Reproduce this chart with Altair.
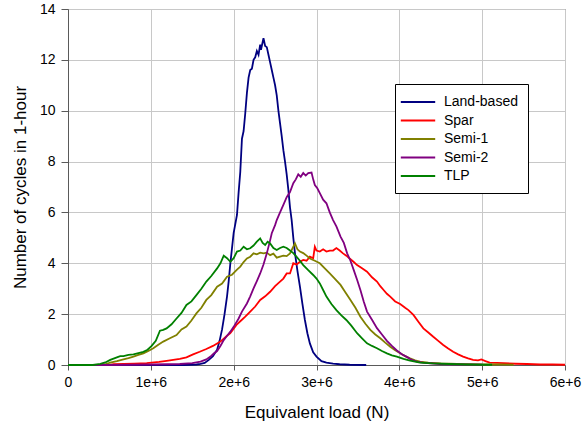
import altair as alt
import pandas as pd

SERIES = ["Land-based", "Spar", "Semi-1", "Semi-2", "TLP"]
COLORS = ["#000080", "#FF0000", "#808000", "#800080", "#008000"]

# x in units of 1e6 N, y = number of cycles in 1-hour
land_x = [0, 1.0, 1.4, 1.55, 1.6, 1.65, 1.7, 1.75, 1.8, 1.83, 1.86, 1.89, 1.92, 1.94, 1.96, 1.98, 2.0, 2.04, 2.06,
          2.08, 2.10, 2.12, 2.14, 2.16, 2.18, 2.20, 2.22, 2.24, 2.26, 2.28, 2.30, 2.32, 2.33, 2.35, 2.36, 2.38, 2.40,
          2.42, 2.44, 2.46, 2.48, 2.50, 2.52, 2.54, 2.56, 2.58, 2.60, 2.62, 2.64, 2.66, 2.68, 2.70, 2.72, 2.74, 2.77,
          2.80, 2.83, 2.86, 2.89, 2.92, 2.96, 3.0, 3.06, 3.12, 3.2, 3.28, 3.4, 3.6]
land_y = [0, 0, 0, 0.02, 0.04, 0.08, 0.2, 0.35, 0.6, 0.95, 1.4, 2.0, 2.7, 3.3, 4.0, 4.6, 5.2, 5.9, 6.8,
          7.6, 8.9, 9.2, 9.9, 10.7, 11.3, 11.6, 11.65, 12.0, 12.1, 12.35, 12.2, 12.6, 12.4, 12.7, 12.85, 12.55, 12.5,
          12.2, 11.9, 11.6, 11.3, 11.0, 10.6, 10.0, 9.5, 9.0, 8.45, 8.0, 7.5, 6.9, 6.2, 5.7, 5.0, 4.4, 3.7,
          3.08, 2.4, 1.77, 1.25, 0.85, 0.5, 0.33, 0.15, 0.09, 0.05, 0.03, 0.01, 0.0]

spar_x = [0, 0.5, 0.55, 0.8, 0.95, 1.1, 1.19, 1.27, 1.35, 1.43, 1.51, 1.59, 1.67, 1.75, 1.84, 1.92, 1.96, 2.04, 2.08,
          2.14, 2.2, 2.26, 2.32, 2.38, 2.44, 2.50, 2.56, 2.60, 2.64, 2.68, 2.72, 2.76, 2.80, 2.84, 2.88, 2.92, 2.96,
          2.98, 3.0, 3.04, 3.08, 3.12, 3.16, 3.20, 3.24, 3.28, 3.32, 3.36, 3.40, 3.45, 3.49, 3.55, 3.61, 3.67, 3.73,
          3.77, 3.81, 3.85, 3.89, 3.95, 4.01, 4.07, 4.11, 4.17, 4.23, 4.29, 4.35, 4.41, 4.47, 4.53, 4.59, 4.65, 4.71,
          4.77, 4.83, 4.89, 4.95, 4.99, 5.04, 5.09, 5.18, 5.26, 5.4, 5.54, 5.7, 5.85, 6.0]
spar_y = [0, 0, 0.03, 0.05, 0.07, 0.12, 0.16, 0.2, 0.24, 0.3, 0.42, 0.52, 0.63, 0.75, 0.92, 1.15, 1.25, 1.6, 1.72,
          1.9, 2.1, 2.3, 2.56, 2.7, 2.88, 3.1, 3.28, 3.4, 3.6, 3.6, 4.0, 3.95, 4.06, 4.13, 4.1, 4.26, 4.2,
          4.65, 4.5, 4.46, 4.55, 4.46, 4.5, 4.5, 4.6, 4.5, 4.39, 4.3, 4.19, 4.05, 3.93, 3.8, 3.67, 3.45, 3.28,
          3.1, 2.95, 2.8, 2.69, 2.5, 2.4, 2.25, 2.16, 1.97, 1.7, 1.44, 1.28, 1.11, 0.95, 0.79, 0.65, 0.52, 0.42,
          0.33, 0.26, 0.2, 0.18, 0.22, 0.15, 0.09, 0.08, 0.07, 0.05, 0.04, 0.02, 0.02, 0.01]

semi1_x = [0, 0.4, 0.45, 0.51, 0.59, 0.67, 0.73, 0.79, 0.85, 0.91, 0.97, 1.03, 1.09, 1.15, 1.23, 1.31, 1.37, 1.43,
           1.49, 1.55, 1.61, 1.67, 1.73, 1.80, 1.86, 1.92, 1.98, 2.04, 2.08, 2.12, 2.16, 2.2, 2.24, 2.28, 2.32, 2.36,
           2.40, 2.44, 2.48, 2.52, 2.56, 2.60, 2.64, 2.68, 2.72, 2.74, 2.77, 2.80, 2.84, 2.88, 2.92, 2.98, 3.04,
           3.10, 3.16, 3.22, 3.29, 3.35, 3.41, 3.47, 3.53, 3.59, 3.65, 3.71, 3.77, 3.83, 3.89, 3.95, 4.01, 4.07,
           4.13, 4.19, 4.25, 4.35, 4.5, 4.7, 5.0, 5.2, 5.38]
semi1_y = [0, 0, 0.03, 0.09, 0.15, 0.22, 0.27, 0.33, 0.4, 0.46, 0.55, 0.66, 0.8, 0.92, 1.05, 1.18, 1.4, 1.51,
           1.75, 2.03, 2.25, 2.56, 2.75, 3.08, 3.2, 3.47, 3.55, 3.75, 3.87, 4.05, 4.19, 4.26, 4.39, 4.35, 4.42, 4.39,
           4.42, 4.32, 4.38, 4.22, 4.26, 4.3, 4.28, 4.39, 4.65, 4.78, 4.55, 4.46, 4.4, 4.3, 4.19, 4.1, 4.0,
           3.8, 3.6, 3.4, 3.15, 2.85, 2.56, 2.25, 1.9, 1.62, 1.38, 1.2, 1.05, 0.88, 0.72, 0.58, 0.46, 0.35,
           0.26, 0.18, 0.13, 0.09, 0.06, 0.04, 0.02, 0.02, 0.01]

semi2_x = [0, 0.5, 1.0, 1.2, 1.35, 1.5, 1.6, 1.67, 1.72, 1.76, 1.80, 1.84, 1.88, 1.92, 1.96, 2.0, 2.06, 2.10, 2.16,
           2.20, 2.24, 2.28, 2.32, 2.36, 2.40, 2.44, 2.46, 2.50, 2.52, 2.56, 2.60, 2.64, 2.68, 2.72, 2.75, 2.78,
           2.81, 2.84, 2.87, 2.90, 2.94, 2.96, 2.98, 3.01, 3.04, 3.08, 3.12, 3.16, 3.20, 3.24, 3.29, 3.33, 3.37,
           3.41, 3.45, 3.49, 3.53, 3.57, 3.61, 3.67, 3.73, 3.79, 3.85, 3.91, 3.97, 4.03, 4.09, 4.15, 4.21, 4.3,
           4.49, 4.7, 5.0]
semi2_y = [0, 0, 0.02, 0.03, 0.04, 0.07, 0.13, 0.22, 0.33, 0.45, 0.55, 0.75, 0.98, 1.15, 1.31, 1.5, 1.83, 2.1, 2.42,
           2.7, 3.01, 3.3, 3.6, 3.95, 4.39, 4.9, 5.18, 5.5, 5.7, 6.0, 6.3, 6.6, 6.8, 7.15, 7.3, 7.5,
           7.4, 7.55, 7.45, 7.55, 7.57, 7.3, 7.08, 6.95, 6.76, 6.5, 6.36, 6.0, 5.7, 5.45, 5.05, 4.8, 4.39,
           4.1, 3.73, 3.35, 2.95, 2.5, 2.1, 1.78, 1.45, 1.2, 0.95, 0.75, 0.57, 0.42, 0.32, 0.2, 0.13, 0.08,
           0.04, 0.02, 0.01]

tlp_x = [0, 0.3, 0.39, 0.45, 0.51, 0.55, 0.59, 0.63, 0.67, 0.73, 0.79, 0.85, 0.91, 0.96, 1.01, 1.06, 1.11, 1.15,
         1.19, 1.25, 1.31, 1.37, 1.43, 1.49, 1.55, 1.61, 1.67, 1.73, 1.80, 1.84, 1.88, 1.92, 1.96, 2.0, 2.04, 2.08,
         2.12, 2.16, 2.2, 2.24, 2.28, 2.32, 2.35, 2.38, 2.41, 2.44, 2.48, 2.52, 2.56, 2.60, 2.64, 2.68, 2.72, 2.76,
         2.80, 2.84, 2.90, 2.96, 3.0, 3.04, 3.08, 3.12, 3.18, 3.24, 3.30, 3.36, 3.42, 3.49, 3.55, 3.61, 3.67, 3.73,
         3.79, 3.85, 3.91, 3.97, 4.05, 4.13, 4.25, 4.4, 4.6, 4.8, 5.0, 5.12]
tlp_y = [0, 0, 0.04, 0.1, 0.2, 0.25, 0.3, 0.35, 0.35, 0.4, 0.42, 0.47, 0.52, 0.6, 0.75, 0.95, 1.35, 1.38,
         1.44, 1.6, 1.83, 2.05, 2.36, 2.5, 2.75, 3.0, 3.28, 3.5, 3.8, 4.0, 4.3, 4.2, 4.06, 4.2, 4.46, 4.5,
         4.65, 4.55, 4.59, 4.7, 4.85, 4.98, 4.8, 4.72, 4.85, 4.78, 4.6, 4.52, 4.6, 4.65, 4.6, 4.5, 4.4, 4.25,
         4.1, 3.93, 3.73, 3.54, 3.4, 3.21, 2.95, 2.69, 2.4, 2.16, 1.95, 1.77, 1.55, 1.25, 1.05, 0.85, 0.75, 0.66,
         0.55, 0.46, 0.38, 0.33, 0.24, 0.17, 0.09, 0.06, 0.04, 0.02, 0.01, 0.01]

X_TICKS = [0, 1e6, 2e6, 3e6, 4e6, 5e6, 6e6]
Y_TICKS = [0, 2, 4, 6, 8, 10, 12, 14]

xs = [land_x, spar_x, semi1_x, semi2_x, tlp_x]
ys = [land_y, spar_y, semi1_y, semi2_y, tlp_y]
frames = []
for name, sx, sy in zip(SERIES, xs, ys):
    frames.append(pd.DataFrame({"series": name, "load": [v * 1e6 for v in sx], "cycles": sy, "idx": range(len(sx))}))
df = pd.concat(frames, ignore_index=True)

FONT = "Liberation Sans"

color_scale = alt.Scale(domain=SERIES, range=COLORS)

x_enc = alt.X(
    "load:Q",
    scale=alt.Scale(domain=[0, 6e6], nice=False),
    axis=alt.Axis(
        title="Equivalent load (N)",
        values=X_TICKS,
        labelExpr="datum.value == 0 ? '0' : format(datum.value / 1e6, 'd') + 'e+6'",
        labelFlush=False,
        labelOverlap=False,
        tickSize=5,
        labelPadding=5,
        titleY=47,
        titleBaseline="middle",
    ),
)
y_enc = alt.Y(
    "cycles:Q",
    scale=alt.Scale(domain=[0, 14], nice=False),
    axis=alt.Axis(
        title="Number of cycles in 1-hour",
        values=Y_TICKS,
        labelFlush=False,
        tickSize=7,
        labelPadding=6,
        titleX=-48,
        titleY=178,
        titleBaseline="middle",
    ),
)

layers = []
for name in SERIES:
    layers.append(
        alt.Chart(df)
        .transform_filter(alt.datum.series == name)
        .mark_line(strokeWidth=1.8, interpolate="linear")
        .encode(
            x=x_enc,
            y=y_enc,
            order="idx:Q",
            color=alt.Color(
                "series:N",
                scale=color_scale,
                legend=alt.Legend(
                    title=None,
                    orient="none",
                    legendX=327,
                    legendY=75,
                    symbolType="M-2.6,0L2.6,0",
                    symbolSize=175,
                    symbolStrokeWidth=2,
                    symbolOffset=5,
                    labelFontSize=14,
                    labelFont=FONT,
                    labelColor="#000000",
                    labelOffset=18,
                    rowPadding=3.5,
                    padding=10,
                    strokeColor="#000000",
                    fillColor="#ffffff",
                    labelLimit=200,
                ),
            ),
        )
    )

chart = (
    alt.layer(*layers)
    .properties(
        width=497,
        height=356,
        autosize=alt.AutoSizeParams(type="none"),
        padding={"left": 68, "top": 9, "right": 17, "bottom": 66},
        background="#ffffff",
    )
    .configure_view(stroke="#5a5a5a", strokeWidth=1)
    .configure_axis(
        grid=True,
        gridColor="#c8c8c8",
        gridWidth=1,
        domainColor="#5a5a5a",
        domainWidth=1,
        tickColor="#5a5a5a",
        labelFont=FONT,
        labelFontSize=14,
        labelColor="#000000",
        titleFont=FONT,
        titleFontSize=17,
        titleFontWeight="normal",
        titleColor="#000000",
    )
)

chart.save("out.html", embed_options={"renderer": "svg", "actions": False})
